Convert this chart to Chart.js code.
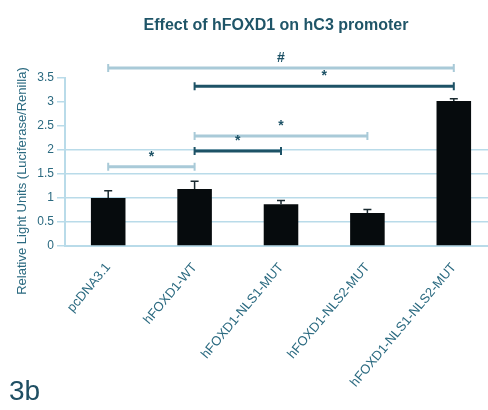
<!DOCTYPE html>
<html>
<head>
<meta charset="utf-8">
<script src="https://cdn.jsdelivr.net/npm/chart.js@4/dist/chart.umd.min.js"></script>
<style>
	body { margin: 0; background: #fff; }
	#wrap { width: 488px; height: 410px; overflow: hidden; }
</style>
</head>
<body>
<div id="wrap"><canvas id="Chart1" width="497" height="410"></canvas></div>
<script>
// chart values
const categories = ['pcDNA3.1', 'hFOXD1-WT', 'hFOXD1-NLS1-MUT', 'hFOXD1-NLS2-MUT', 'hFOXD1-NLS1-NLS2-MUT'];
const values = [1.0, 1.19, 0.87, 0.69, 3.02];
const errors = [0.15, 0.16, 0.08, 0.07, 0.05];
const yTicks = [0, 0.5, 1, 1.5, 2, 2.5, 3, 3.5];

// significance brackets: start bar, end bar, height, mark
const bracketFrom = [0, 1, 1, 1, 0];
const bracketTo = [4, 4, 3, 2, 1];
const bracketHeight = [3.71, 3.33, 2.29, 1.98, 1.65];
const bracketMark = ['#', '*', '*', '*', '*'];

const teal = '#2b6a80';
const lightBlue = '#b9dbe9';
const font = '"Liberation Sans", Arial, sans-serif';

const extras = {
	id: 'extras',
	afterDatasetsDraw: chart => {
		const ctx = chart.ctx;
		const x = chart.scales.x;
		const y = chart.scales.y;
		ctx.save();

		// error bars
		ctx.strokeStyle = '#1a2a30';
		ctx.lineWidth = 1.5;
		values.forEach((v, i) => {
			let px = x.getPixelForValue(i);
			let top = y.getPixelForValue(v + errors[i]);
			let base = y.getPixelForValue(v);
			ctx.beginPath();
			ctx.moveTo(px, base);
			ctx.lineTo(px, top);
			ctx.moveTo(px - 4, top);
			ctx.lineTo(px + 4, top);
			ctx.stroke();
		});

		// brackets
		bracketFrom.forEach((from, i) => {
			let x1 = x.getPixelForValue(from);
			let x2 = x.getPixelForValue(bracketTo[i]);
			let py = y.getPixelForValue(bracketHeight[i]);
			let dark = i % 2 == 1;
			ctx.strokeStyle = dark ? '#1d5266' : '#a9cad8';
			ctx.lineWidth = 3;
			ctx.beginPath();
			ctx.moveTo(x1, py);
			ctx.lineTo(x2, py);
			ctx.stroke();
			ctx.lineWidth = 2;
			ctx.beginPath();
			ctx.moveTo(x1, py - 4);
			ctx.lineTo(x1, py + 4);
			ctx.moveTo(x2, py - 4);
			ctx.lineTo(x2, py + 4);
			ctx.stroke();
			ctx.fillStyle = '#1d5266';
			ctx.font = 'bold 14px ' + font;
			ctx.textAlign = 'center';
			ctx.textBaseline = 'middle';
			ctx.fillText(bracketMark[i], (x1 + x2) / 2, py - 10);
		});

		// title
		ctx.fillStyle = '#1f5568';
		ctx.font = 'bold 16px ' + font;
		ctx.textAlign = 'center';
		ctx.textBaseline = 'middle';
		ctx.fillText('Effect of hFOXD1 on hC3 promoter', 276, 26);

		// y axis title
		ctx.save();
		ctx.translate(22, 181);
		ctx.rotate(-Math.PI / 2);
		ctx.fillStyle = teal;
		ctx.font = '13px ' + font;
		ctx.fillText('Relative Light Units (Luciferase/Renilla)', 0, 0);
		ctx.restore();

		// panel label
		ctx.fillStyle = '#1f4f63';
		ctx.font = '28px ' + font;
		ctx.textAlign = 'left';
		ctx.textBaseline = 'alphabetic';
		ctx.fillText('3b', 9, 400);
		ctx.restore();
	}
};

var ctx = document.getElementById('Chart1');
var myChart = new Chart(ctx, {
	type: 'bar',
	data: {
		labels: categories,
		datasets: [{
			data: values,
			backgroundColor: '#060b0d',
			borderWidth: 0,
			barPercentage: 0.4,
			categoryPercentage: 1
		}]
	},
	options: {
		responsive: false,
		animation: false,
		layout: { padding: { top: 78, left: 10, right: 0, bottom: 0 } },
		plugins: {
			legend: { display: false },
			tooltip: { enabled: false }
		},
		scales: {
			x: {
				afterFit: scale => { scale.height = 164; },
				grid: { display: false, drawTicks: false },
				border: { color: lightBlue, width: 2 },
				ticks: {
					color: teal,
					font: { size: 13, family: font },
					minRotation: 50,
					maxRotation: 50,
					autoSkip: false,
					padding: 14
				}
			},
			y: {
				min: 0,
				max: 3.5,
				afterFit: scale => { scale.width = 55; },
				afterBuildTicks: scale => { scale.ticks = yTicks.map(v => ({ value: v })); },
				grid: {
					color: c => (c.tick && c.tick.value <= 2) ? lightBlue : 'rgba(0,0,0,0)',
					tickColor: lightBlue,
					tickLength: 8,
					lineWidth: 1.5
				},
				border: { color: lightBlue, width: 2 },
				ticks: {
					color: teal,
					font: { size: 12, family: font },
					padding: 3,
					callback: v => v
				}
			}
		}
	},
	plugins: [extras]
});
</script>
</body>
</html>
